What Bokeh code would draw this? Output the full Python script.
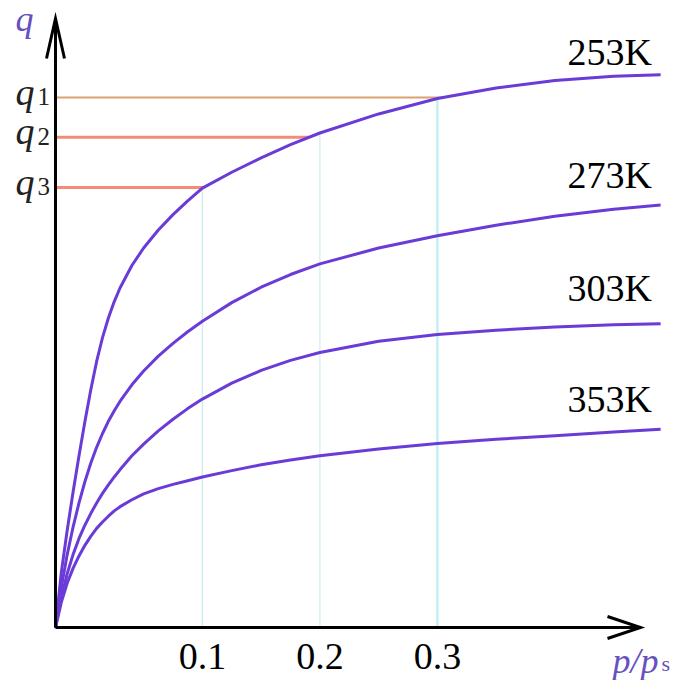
import numpy as np
from bokeh.plotting import figure
from bokeh.models import Range1d, LinearAxis, FixedTicker
from bokeh.core.properties import value
from bokeh.embed import file_html
from bokeh.resources import INLINE

# ---------------- data ----------------
x_pps = [-0.025, -0.02, -0.015, -0.01, -0.005, 0.0, 0.005, 0.01, 0.015, 0.02,
         0.025, 0.03, 0.04, 0.05, 0.0625, 0.075, 0.0875, 0.1, 0.125, 0.15,
         0.175, 0.2, 0.25, 0.3, 0.35, 0.4, 0.45, 0.49]
q_253K = [0, 10.5, 18.4, 25.6, 32.4, 38.8, 44.8, 50.2, 54.7, 58.4,
          61.5, 64.1, 68.3, 71.6, 75.0, 77.9, 80.5, 82.9, 85.9, 88.6,
          91.1, 93.3, 96.9, 99.8, 101.8, 103.2, 104.0, 104.3]
q_273K = [0, 7.6, 13.8, 19.0, 23.5, 27.5, 31.0, 34.0, 36.6, 38.9,
          40.9, 42.7, 45.8, 48.4, 51.2, 53.6, 55.8, 57.8, 61.3, 64.2,
          66.6, 68.6, 71.6, 73.9, 75.9, 77.6, 78.9, 79.7]
q_303K = [0, 5.6, 10.2, 13.8, 16.8, 19.3, 21.5, 23.5, 25.3, 26.9,
          28.4, 29.8, 32.4, 34.6, 37.1, 39.3, 41.3, 43.1, 46.1, 48.5,
          50.4, 51.9, 54.0, 55.3, 56.1, 56.7, 57.1, 57.3]
q_353K = [0, 4.8, 8.4, 11.2, 13.5, 15.5, 17.2, 18.7, 19.9, 21.0,
          22.0, 22.8, 24.1, 25.2, 26.2, 27.0, 27.7, 28.4, 29.6, 30.7,
          31.6, 32.4, 33.7, 34.7, 35.5, 36.2, 36.9, 37.4]
temps = ["253K", "273K", "303K", "353K"]
x_ticks = [0.1, 0.2, 0.3]
q_levels = [100.0, 92.5, 83.0]
q_subs = ["1", "2", "3"]
x_guides = [0.1, 0.2, 0.3]

# ---------------- layout / style ----------------
W, H = 677, 680
ORIGIN_CX, ORIGIN_CY = 55, 627      # origin in canvas pixels
PX_PER_X = 1175.0
PX_PER_Q = 5.3
X_AXIS_LEN = 585                    # pixels
Y_AXIS_LEN = 609
SERIF = "Liberation Serif"
CURVE = "#6a3bd6"
LABEL_PURPLE = "#6650c0"

X0 = x_pps[0]
x_start = X0 - ORIGIN_CX / PX_PER_X
y_start = -(H - ORIGIN_CY) / PX_PER_Q
XT = X0 + X_AXIS_LEN / PX_PER_X
YT = Y_AXIS_LEN / PX_PER_Q

p = figure(width=W, height=H, output_backend="svg", toolbar_location=None,
           x_axis_type=None, y_axis_type=None, min_border=0,
           x_range=Range1d(x_start, x_start + W / PX_PER_X),
           y_range=Range1d(y_start, y_start + H / PX_PER_Q))
p.outline_line_color = None
p.grid.visible = False
p.background_fill_color = "white"
p.border_fill_color = "white"

# guide lines
curve_top = np.interp(x_guides, x_pps, q_253K)
p.segment(x0=x_guides, y0=[0] * 3, x1=x_guides, y1=curve_top,
          line_color=["#d3eef3", "#d8f0f4", "#c4f0f4"], line_width=[1.5, 1.5, 2.5])
x_cross = np.interp(q_levels, q_253K, x_pps)
p.segment(x0=[X0] * 3, y0=q_levels, x1=x_cross, y1=q_levels,
          line_color=["#d9a36e", "#f28c78", "#f28c78"], line_width=[2, 3, 3])

# isotherms
for q in [q_253K, q_273K, q_303K, q_353K]:
    p.line(x_pps, q, line_color=CURVE, line_width=3, line_join="round")

# axes with arrows
p.segment(x0=[X0, X0], y0=[0, 0], x1=[XT, X0], y1=[0, YT], line_color="black", line_width=3)
hx, hy = 33 / PX_PER_X, 11 / PX_PER_Q
vx, vy = 9 / PX_PER_X, 40 / PX_PER_Q
p.multi_line(xs=[[XT - hx, XT, XT - hx], [X0 - vx, X0, X0 + vx]],
             ys=[[hy, 0, -hy], [YT - vy, YT, YT - vy]],
             line_color="black", line_width=3, line_join="miter")

xaxis = LinearAxis(fixed_location=0, ticker=FixedTicker(ticks=x_ticks),
                   axis_line_color=None, major_tick_line_color=None,
                   minor_tick_line_color=None, major_label_standoff=10,
                   major_label_text_font=SERIF, major_label_text_font_size="38px",
                   major_label_text_color="black")
p.add_layout(xaxis, "below")

# curve labels
ends = [q_253K[-1], q_273K[-1], q_303K[-1], q_353K[-1]]
p.text(x=[x_pps[-1]] * 4, y=ends, text=temps, x_offset=-51, y_offset=[-23, -30, -36, -30],
       text_font=value(SERIF), text_font_size="38px", text_align="center",
       text_baseline="alphabetic", text_color="black")

# q level labels
p.text(x=[X0] * 3, y=q_levels, text=["q"] * 3, x_offset=-40, y_offset=-6,
       text_font=value(SERIF), text_font_style="italic", text_font_size="38px",
       text_align="left", text_baseline="alphabetic", text_color="#222222")
p.text(x=[X0] * 3, y=q_levels, text=q_subs, x_offset=-18, y_offset=-1,
       text_font=value(SERIF), text_font_size="25px",
       text_align="left", text_baseline="alphabetic", text_color="#222222")

# axis titles
p.text(x=[X0], y=[YT], text=["q"], x_offset=-40, y_offset=0,
       text_font=value(SERIF), text_font_style="italic", text_font_size="36px",
       text_align="left", text_baseline="alphabetic", text_color=LABEL_PURPLE)
p.text(x=[XT], y=[0], text=["p/p"], x_offset=-28, y_offset=33,
       text_font=value(SERIF), text_font_style="italic", text_font_size="36px",
       text_align="left", text_baseline="alphabetic", text_color=LABEL_PURPLE)
p.text(x=[XT], y=[0], text=["s"], x_offset=21, y_offset=36,
       text_font=value(SERIF), text_font_size="22px",
       text_align="left", text_baseline="alphabetic", text_color=LABEL_PURPLE)

open("out.html", "w").write(file_html(p, INLINE))
